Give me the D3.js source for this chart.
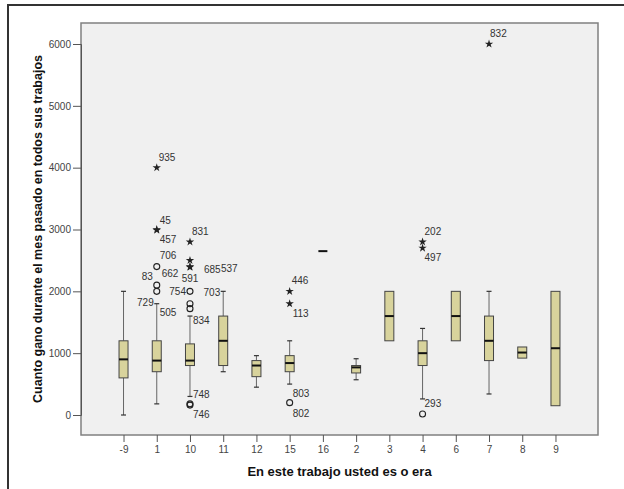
<!DOCTYPE html>
<html>
<head>
<meta charset="utf-8">
<script src="https://cdn.jsdelivr.net/npm/d3@7"></script>
<style>
  body { margin: 0; background: #fff; }
  svg { display: block; font-family: "Liberation Sans", Arial, sans-serif; }
</style>
</head>
<body>
<svg id="chart" width="624" height="489"></svg>
<script>
// categories (x) in the order SPSS drew them
const categories = ["-9", "1", "10", "11", "12", "15", "16", "2", "3", "4", "6", "7", "8", "9"];

// box statistics per category
const whiskerLow = [0, 180, 300, 700, 450, 500, 2650, 570, 1200, 260, 1200, 340, 920, 150];
const q1 = [600, 700, 800, 800, 620, 700, 2650, 680, 1200, 800, 1200, 880, 920, 150];
const median = [900, 880, 880, 1200, 800, 840, 2650, 770, 1600, 1000, 1600, 1200, 1010, 1080];
const q3 = [1200, 1200, 1150, 1600, 880, 960, 2650, 800, 2000, 1200, 2000, 1600, 1100, 2000];
const whiskerHigh = [2000, 1800, 1600, 2000, 960, 1200, 2650, 910, 2000, 1400, 2000, 2000, 1100, 2000];

// outliers: o = circle, * = extreme
const outCat = ["1", "1", "1", "1", "1", "1", "10", "10", "10", "10", "10", "10", "10", "10", "10", "15", "15", "15", "4", "4", "4", "7"];
const outVal = [4000, 3000, 2990, 2400, 2100, 2000, 2800, 2500, 2400, 2390, 2000, 1800, 1720, 180, 160, 2000, 1800, 200, 2800, 2700, 15, 6000];
const outType = ["*", "*", "*", "o", "o", "o", "*", "*", "*", "*", "o", "o", "o", "o", "o", "*", "*", "o", "*", "*", "o", "*"];

// case labels next to the outliers
const labelText = ["935", "45", "457", "706", "83", "662", "729", "505", "831", "591", "685", "537", "754", "834", "748", "746", "703", "446", "113", "803", "802", "202", "497", "293", "832"];
const labelCat = ["1", "1", "1", "1", "1", "1", "1", "1", "10", "10", "10", "10", "10", "10", "10", "10", "11", "15", "15", "15", "15", "4", "4", "4", "7"];
const labelVal = [4000, 3000, 3000, 2400, 2100, 2000, 1800, 1800, 2800, 2400, 2400, 2400, 2000, 1600, 300, 170, 2000, 2000, 1800, 500, 200, 2800, 2700, 15, 6000];

const yTicks = [0, 1000, 2000, 3000, 4000, 5000, 6000];

// label nudges (pixels) so the ids sit where SPSS put them
const nudge = {
  "935": [2, -7, "start"], "45": [3, -6, "start"], "457": [3, 13, "start"],
  "706": [3, -8, "start"], "83": [-4, -5, "end"], "662": [5, -14, "start"],
  "729": [-3, 2, "end"], "505": [3, 12, "start"], "831": [2, -7, "start"],
  "591": [0, 15, "middle"], "685": [14, 6, "start"], "537": [31, 5, "start"],
  "754": [-4, 4, "end"], "834": [3, 8, "start"], "748": [3, 2, "start"],
  "746": [3, 14, "start"], "703": [-3, 5, "end"], "446": [2, -7, "start"],
  "113": [3, 13, "start"], "803": [3, 13, "start"], "802": [3, 14, "start"],
  "202": [2, -7, "start"], "497": [2, 13, "start"], "293": [2, -7, "start"],
  "832": [1, -7, "start"]
};

const svg = d3.select("#chart");
const plot = { left: 81, top: 23, right: 598, bottom: 435 };
const boxW = 9;
const capW = 5;

// outer frame (runs off the right/bottom edge like the screenshot)
svg.append("path")
  .attr("d", "M8,489 L8,5 L624,5")
  .attr("fill", "none")
  .attr("stroke", "#333")
  .attr("stroke-width", 2);

// plot background
svg.append("rect")
  .attr("x", plot.left)
  .attr("y", plot.top)
  .attr("width", plot.right - plot.left)
  .attr("height", plot.bottom - plot.top)
  .attr("fill", "#f0f0f0")
  .attr("stroke", "#808080")
  .attr("stroke-width", 1.5);

// scales
const x = d3.scalePoint()
  .domain(categories)
  .range([plot.left, plot.right])
  .padding(1.28);

const y = d3.scaleLinear()
  .domain([0, 6000])
  .range([415, 44]);

// Y axis
const yAxis = svg.append("g")
  .attr("transform", `translate(${plot.left},0)`)
  .call(d3.axisLeft(y).tickValues(yTicks).tickSize(8).tickPadding(2).tickFormat(d3.format("d")));
yAxis.select(".domain").attr("stroke", "#555");
yAxis.selectAll("line").attr("stroke", "#555");
yAxis.selectAll("text").attr("fill", "#444").style("font-size", "10px");

// X axis
const xAxis = svg.append("g")
  .attr("transform", `translate(0,${plot.bottom})`)
  .call(d3.axisBottom(x).tickSize(7).tickPadding(4));
xAxis.select(".domain").remove();
xAxis.selectAll("line").attr("stroke", "#555");
xAxis.selectAll("text").attr("fill", "#444").style("font-size", "10px");

// axis titles
svg.append("text")
  .attr("text-anchor", "middle")
  .attr("transform", "rotate(-90)")
  .attr("x", -(plot.top + plot.bottom) / 2)
  .attr("y", 42)
  .style("font-size", "12.5px")
  .style("font-weight", "bold")
  .attr("fill", "#111")
  .text("Cuanto gano durante el mes pasado en todos sus trabajos");

svg.append("text")
  .attr("text-anchor", "middle")
  .attr("x", (plot.left + plot.right) / 2)
  .attr("y", 476)
  .style("font-size", "13px")
  .style("font-weight", "bold")
  .attr("fill", "#111")
  .text("En este trabajo usted es o era");

// box table built from the arrays
const boxes = categories.map((c, i) => ({
  cat: c, lo: whiskerLow[i], q1: q1[i], med: median[i], q3: q3[i], hi: whiskerHigh[i]
}));

const g = svg.append("g").attr("class", "boxes");
const box = g.selectAll(".box").data(boxes).enter().append("g").attr("class", "box");

// whiskers
box.filter((d) => d.hi > d.q3)
  .append("line")
  .attr("x1", (d) => x(d.cat)).attr("x2", (d) => x(d.cat))
  .attr("y1", (d) => y(d.q3)).attr("y2", (d) => y(d.hi))
  .attr("stroke", "#666").attr("stroke-width", 1);
box.filter((d) => d.lo < d.q1)
  .append("line")
  .attr("x1", (d) => x(d.cat)).attr("x2", (d) => x(d.cat))
  .attr("y1", (d) => y(d.q1)).attr("y2", (d) => y(d.lo))
  .attr("stroke", "#666").attr("stroke-width", 1);

// whisker caps
box.filter((d) => d.hi > d.q3)
  .append("line")
  .attr("x1", (d) => x(d.cat) - capW / 2).attr("x2", (d) => x(d.cat) + capW / 2)
  .attr("y1", (d) => y(d.hi)).attr("y2", (d) => y(d.hi))
  .attr("stroke", "#333").attr("stroke-width", 1.2);
box.filter((d) => d.lo < d.q1)
  .append("line")
  .attr("x1", (d) => x(d.cat) - capW / 2).attr("x2", (d) => x(d.cat) + capW / 2)
  .attr("y1", (d) => y(d.lo)).attr("y2", (d) => y(d.lo))
  .attr("stroke", "#333").attr("stroke-width", 1.2);

// boxes
box.filter((d) => d.q3 > d.q1)
  .append("rect")
  .attr("x", (d) => x(d.cat) - boxW / 2)
  .attr("y", (d) => y(d.q3))
  .attr("width", boxW)
  .attr("height", (d) => y(d.q1) - y(d.q3))
  .attr("fill", "#d8d39c")
  .attr("stroke", "#444")
  .attr("stroke-width", 1);

// medians
box.append("line")
  .attr("x1", (d) => x(d.cat) - boxW / 2).attr("x2", (d) => x(d.cat) + boxW / 2)
  .attr("y1", (d) => y(d.med)).attr("y2", (d) => y(d.med))
  .attr("stroke", "#111")
  .attr("stroke-width", 2);

// outliers
const outliers = outCat.map((c, i) => ({ cat: c, v: outVal[i], t: outType[i] }));

svg.selectAll(".circ")
  .data(outliers.filter((d) => d.t === "o"))
  .enter().append("circle")
  .attr("class", "circ")
  .attr("cx", (d) => x(d.cat))
  .attr("cy", (d) => y(d.v))
  .attr("r", 3)
  .attr("fill", "none")
  .attr("stroke", "#222")
  .attr("stroke-width", 1.1);

const star = d3.symbol().type(d3.symbolStar).size(22);
svg.selectAll(".star")
  .data(outliers.filter((d) => d.t === "*"))
  .enter().append("path")
  .attr("class", "star")
  .attr("transform", (d) => `translate(${x(d.cat)},${y(d.v)})`)
  .attr("d", star)
  .attr("fill", "#222");

// case labels
const labels = labelText.map((t, i) => ({ t, cat: labelCat[i], v: labelVal[i] }));
svg.selectAll(".lbl")
  .data(labels)
  .enter().append("text")
  .attr("class", "lbl")
  .attr("x", (d) => x(d.cat) + nudge[d.t][0])
  .attr("y", (d) => y(d.v) + nudge[d.t][1])
  .attr("text-anchor", (d) => nudge[d.t][2])
  .style("font-size", "10px")
  .attr("fill", "#333")
  .text((d) => d.t);
</script>
</body>
</html>
